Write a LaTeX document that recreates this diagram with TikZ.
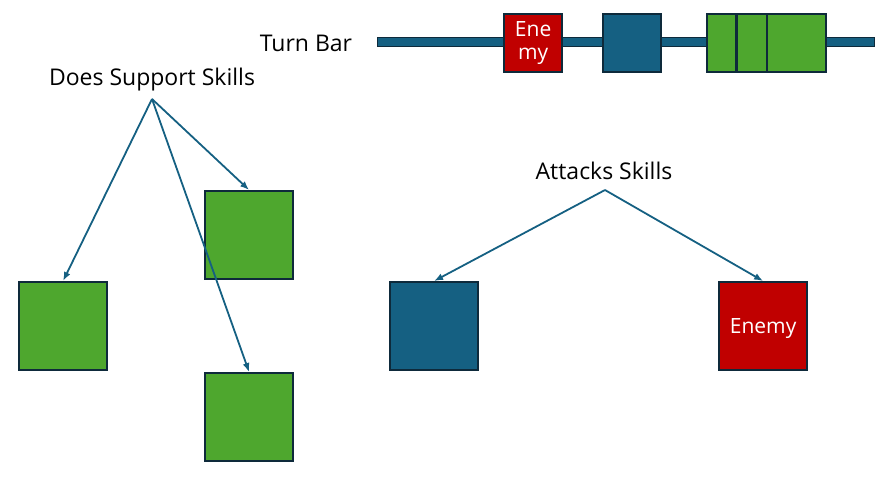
\documentclass[tikz,border=0pt]{standalone}
\usepackage{fontspec}
\setmainfont{Open Sans}
\usetikzlibrary{calc}
\usetikzlibrary{arrows.meta}

\definecolor{skillblue}{HTML}{156082}
\definecolor{allygreen}{HTML}{4EA72E}
\definecolor{enemyred}{HTML}{C00000}
\definecolor{edgenavy}{HTML}{0E2A3B}

\tikzset{
	box/.style={draw=edgenavy, line width=2.2pt, inner sep=0pt, anchor=north west},
	bigbox/.style={box, minimum width=88pt, minimum height=88pt},
	barbox/.style={box, minimum width=58pt, minimum height=58pt},
	label/.style={font=\fontsize{23}{27}\selectfont, inner sep=0pt},
	boxtext/.style={text=white, font=\fontsize{21}{24}\selectfont, align=center},
	arrow/.style={-{Latex[length=9pt, width=7pt]}, draw=skillblue, line width=1.8pt}
}

\begin{document}
\begin{tikzpicture}[x=1pt, y=-1pt]
	\useasboundingbox (0,0) rectangle (893,477);

	% Turn bar with the queued units
	\node[label] (turn) at (306,43) {Turn Bar};
	\draw[draw=edgenavy, line width=1.8pt, fill=skillblue] (377.5,37.5) rectangle (874.5,46.5);
	\node[barbox, fill=enemyred, boxtext] (qenemy) at (503,13) {Ene\\[-1pt]my};
	\node[barbox, fill=skillblue] (qblue) at (602,13) {};
	\node[box, fill=allygreen, minimum width=29pt, minimum height=58pt] (qg1) at (706,13) {};
	\node[box, fill=allygreen, minimum width=30pt, minimum height=58pt] (qg2) at (735.5,13) {};
	\node[box, fill=allygreen, minimum width=59pt, minimum height=58pt] (qg3) at (765.5,13) {};

	% Support skills go to the allies
	\node[label] (sup) at (152,80) {Does Support Skills};
	\coordinate (supsrc) at (152,99);
	\node[bigbox, fill=allygreen] (ally1) at (18,281) {};
	\node[bigbox, fill=allygreen] (ally2) at (204,190) {};
	\node[bigbox, fill=allygreen] (ally3) at (204,372) {};
	\draw[arrow] (supsrc) -- (ally1.north);
	\draw[arrow] (supsrc) -- (ally2.north);
	\draw[arrow] (supsrc) -- (ally3.north);

	% Attack skills go to either side
	\node[label] (atk) at (604,171) {Attacks Skills};
	\coordinate (atksrc) at (605,190);
	\node[bigbox, fill=skillblue] (tblue) at (389,281) {};
	\node[bigbox, fill=enemyred, boxtext, text height=17pt, text depth=3pt] (tenemy) at (718,281) {Enemy};
	\draw[arrow] (atksrc) -- (tblue.north);
	\draw[arrow] (atksrc) -- (tenemy.north);
\end{tikzpicture}
\end{document}
